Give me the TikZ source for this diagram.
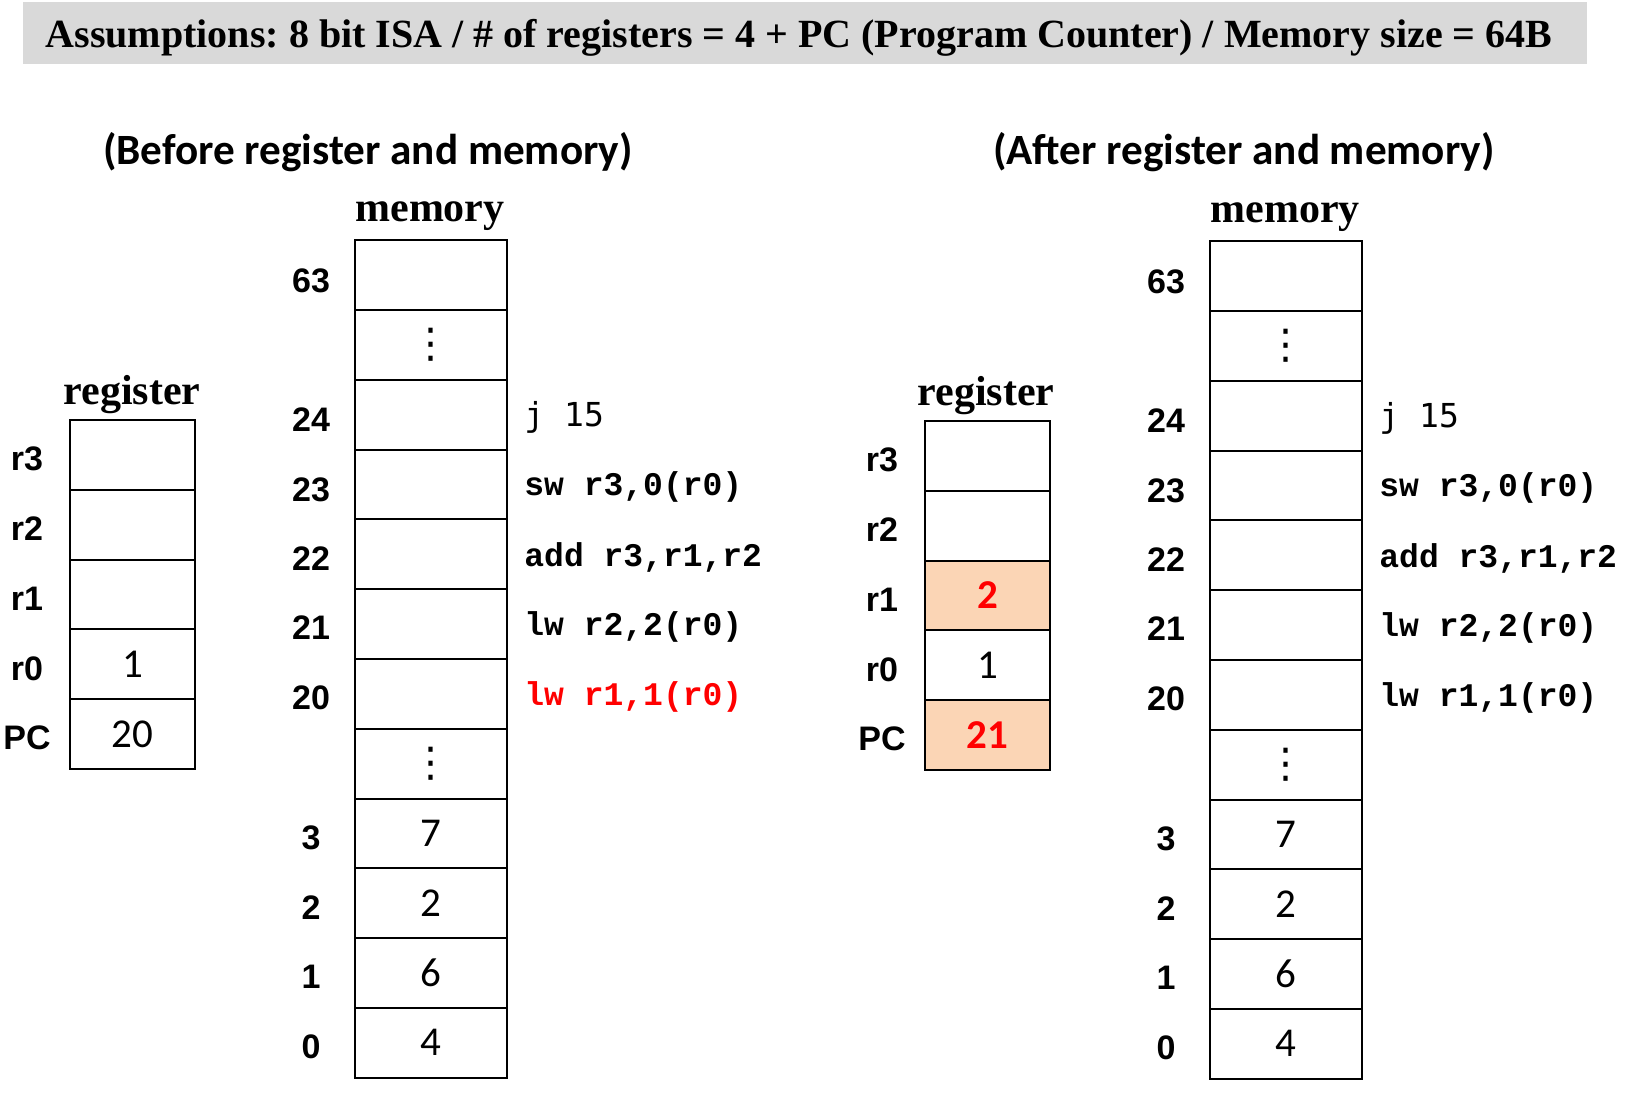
\documentclass[tikz,border=0pt]{standalone}
\usepackage{fontspec}
\setmainfont{Liberation Serif}
\newfontfamily\calfont{Carlito}
\newfontfamily\arialfont{Liberation Sans}
\newfontfamily\courfont{Liberation Mono}
\newfontfamily\djmono{DejaVu Sans Mono}
\newfontfamily\djsans{DejaVu Sans}
\usetikzlibrary{positioning}
\definecolor{barGray}{HTML}{D9D9D9}
\definecolor{peach}{HTML}{FBD5B5}
\definecolor{hotRed}{HTML}{FF0000}
\frenchspacing
\tikzset{
  memcell/.style={draw,line width=1pt,minimum width=76pt,minimum height=34.9pt,inner sep=0pt,
    font=\calfont\fontsize{20.5}{24}\selectfont},
  regcell/.style={memcell,minimum width=62.5pt},
  changed/.style={fill=peach,text=hotRed,font=\calfont\bfseries\fontsize{20.5}{24}\selectfont},
  addr/.style={font=\arialfont\bfseries\fontsize{17}{19}\selectfont,inner sep=0pt},
  code/.style={font=\courfont\bfseries\fontsize{16.5}{18}\selectfont,inner sep=0pt,anchor=west,yshift=-1.5pt},
  jcode/.style={code,font=\djmono\fontsize{16.5}{18}\selectfont},
  boxtitle/.style={font=\bfseries\fontsize{21}{24}\selectfont,inner sep=0pt},
  paneltitle/.style={font=\calfont\bfseries\fontsize{21.6}{25}\selectfont,inner sep=0pt}
}
\begin{document}
\begin{tikzpicture}[x=0.5pt,y=-0.5pt]
  \useasboundingbox (0,0) rectangle (1641,1108);
  % assumptions bar
  \node[fill=barGray,minimum width=782pt,minimum height=31pt,inner sep=0pt] (bar) at (805,33) {};
  \node[anchor=base,inner sep=0pt,font=\bfseries\fontsize{20}{23}\selectfont] (assume) at (799,47)
    {Assumptions: 8 bit ISA / \# of registers = 4 + PC (Program Counter) / Memory size = 64B};
  \node[paneltitle] (before) at (368,152) {(Before register and memory)};
  \node[paneltitle] (after) at (1244,152) {(After register and memory)};

  % before: memory
  \draw
    (431,275) node[memcell] (mL63){}
    (431,344.8) node[memcell] (mLgapA){\djsans ⋮}
    (431,414.6) node[memcell] (mL24){}
    (431,484.4) node[memcell] (mL23){}
    (431,554.2) node[memcell] (mL22){}
    (431,624) node[memcell] (mL21){}
    (431,693.8) node[memcell] (mL20){}
    (431,763.6) node[memcell] (mLgapB){\djsans ⋮}
    (431,833.4) node[memcell] (mL3){7}
    (431,903.2) node[memcell] (mL2){2}
    (431,973) node[memcell] (mL1){6}
    (431,1042.8) node[memcell] (mL0){4};
  \node[boxtitle] (memL) at (430,216) {memory};
  \draw
    (311,281) node[addr] (aL63){63}
    (311,419.6) node[addr] (aL24){24}
    (311,489.4) node[addr] (aL23){23}
    (311,558.2) node[addr] (aL22){22}
    (311,628) node[addr] (aL21){21}
    (311,697.8) node[addr] (aL20){20}
    (311,837.4) node[addr] (aL3){3}
    (311,907.2) node[addr] (aL2){2}
    (311,977) node[addr] (aL1){1}
    (311,1046.8) node[addr] (aL0){0};
  \node[jcode,right=8pt of mL24] (cL24) {j 15};
  \node[code,right=8pt of mL23] (cL23) {sw r3,0(r0)};
  \node[code,right=8pt of mL22] (cL22) {add r3,r1,r2};
  \node[code,right=8pt of mL21] (cL21) {lw r2,2(r0)};
  \node[code,right=8pt of mL20,text=hotRed] (cL20) {lw r1,1(r0)};

  % before: register
  \draw
    (132.5,454.9) node[regcell] (rL3){}
    (132.5,524.7) node[regcell] (rL2){}
    (132.5,594.5) node[regcell] (rL1){}
    (132.5,664.3) node[regcell] (rL0){1}
    (132.5,734.1) node[regcell] (rLpc){20};
  \node[boxtitle] (regL) at (132,395) {register};
  \draw
    (27,459) node[addr] (nL3){r3}
    (27,528.7) node[addr] (nL2){r2}
    (27,598.5) node[addr] (nL1){r1}
    (27,668.3) node[addr] (nL0){r0}
    (27,738.1) node[addr] (nLpc){PC};

  % after: memory
  \draw
    (1286,276) node[memcell] (mR63){}
    (1286,345.8) node[memcell] (mRgapA){\djsans ⋮}
    (1286,415.6) node[memcell] (mR24){}
    (1286,485.4) node[memcell] (mR23){}
    (1286,555.2) node[memcell] (mR22){}
    (1286,625) node[memcell] (mR21){}
    (1286,694.8) node[memcell] (mR20){}
    (1286,764.6) node[memcell] (mRgapB){\djsans ⋮}
    (1286,834.4) node[memcell] (mR3){7}
    (1286,904.2) node[memcell] (mR2){2}
    (1286,974) node[memcell] (mR1){6}
    (1286,1043.8) node[memcell] (mR0){4};
  \node[boxtitle] (memR) at (1285,217) {memory};
  \draw
    (1166,282) node[addr] (aR63){63}
    (1166,420.6) node[addr] (aR24){24}
    (1166,490.4) node[addr] (aR23){23}
    (1166,559.2) node[addr] (aR22){22}
    (1166,629) node[addr] (aR21){21}
    (1166,698.8) node[addr] (aR20){20}
    (1166,838.4) node[addr] (aR3){3}
    (1166,908.2) node[addr] (aR2){2}
    (1166,978) node[addr] (aR1){1}
    (1166,1047.8) node[addr] (aR0){0};
  \node[jcode,right=8pt of mR24] (cR24) {j 15};
  \node[code,right=8pt of mR23] (cR23) {sw r3,0(r0)};
  \node[code,right=8pt of mR22] (cR22) {add r3,r1,r2};
  \node[code,right=8pt of mR21] (cR21) {lw r2,2(r0)};
  \node[code,right=8pt of mR20] (cR20) {lw r1,1(r0)};

  % after: register
  \draw
    (987.5,455.9) node[regcell] (rR3){}
    (987.5,525.7) node[regcell] (rR2){}
    (987.5,595.5) node[regcell,changed] (rR1){2}
    (987.5,665.3) node[regcell] (rR0){1}
    (987.5,735.1) node[regcell,changed] (rRpc){21};
  \node[boxtitle] (regR) at (986,396) {register};
  \draw
    (882,460) node[addr] (nR3){r3}
    (882,529.7) node[addr] (nR2){r2}
    (882,599.5) node[addr] (nR1){r1}
    (882,669.3) node[addr] (nR0){r0}
    (882,739.1) node[addr] (nRpc){PC};
\end{tikzpicture}
\end{document}
